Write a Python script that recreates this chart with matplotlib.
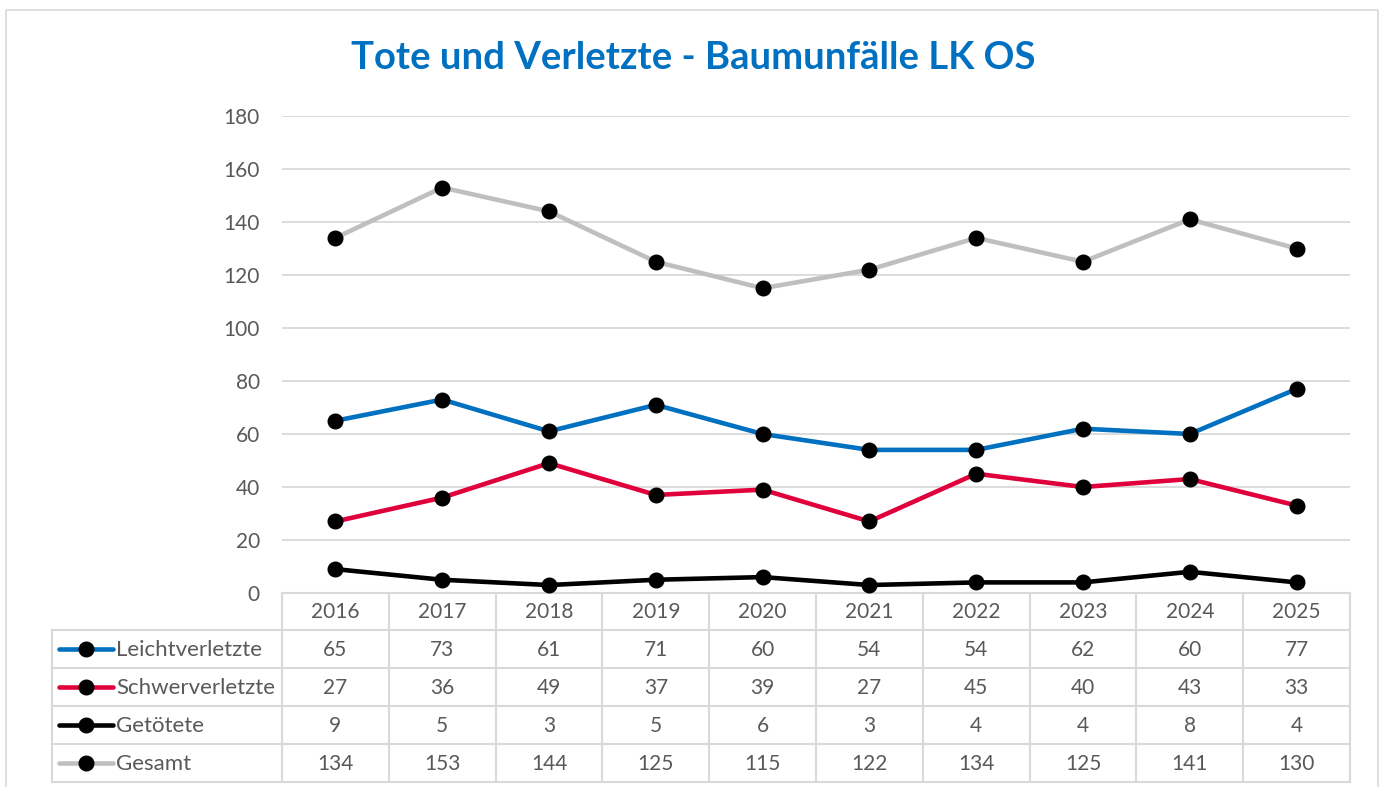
import matplotlib
matplotlib.use("Agg")
import matplotlib.pyplot as plt

years = ["2016", "2017", "2018", "2019", "2020", "2021", "2022", "2023", "2024", "2025"]
leicht = [65, 73, 61, 71, 60, 54, 54, 62, 60, 77]
schwer = [27, 36, 49, 37, 39, 27, 45, 40, 43, 33]
getoetet = [9, 5, 3, 5, 6, 3, 4, 4, 8, 4]
gesamt = [134, 153, 144, 125, 115, 122, 134, 125, 141, 130]
series_names = ["Leichtverletzte", "Schwerverletzte", "Getötete", "Gesamt"]
series_values = [leicht, schwer, getoetet, gesamt]
series_colors = ["#0070C0", "#E0003C", "#000000", "#BFBFBF"]
yticks = [0, 20, 40, 60, 80, 100, 120, 140, 160, 180]
title = "Tote und Verletzte - Baumunfälle LK OS"

W, H = 1379, 787
plt.rcParams["font.family"] = ["Lato", "DejaVu Sans"]
fig = plt.figure(figsize=(W / 100, H / 100), dpi=100)

txt = "#595959"
grid_c = "#D9D9D9"

# overlay in pixel coordinates
ov = fig.add_axes([0, 0, 1, 1])
ov.set_xlim(0, W)
ov.set_ylim(H, 0)
ov.axis("off")

# outer border
ov.plot([6, 6, 1378, 1378], [H, 10, 10, H], color=grid_c, lw=1.2)

# plot area
px0, px1, py0, py1 = 282, 1350, 116, 593
ax = fig.add_axes([px0 / W, (H - py1) / H, (px1 - px0) / W, (py1 - py0) / H])
ax.set_xlim(-0.5, len(years) - 0.5)
ax.set_ylim(0, 180)
ax.patch.set_alpha(0)
for s in ax.spines.values():
    s.set_visible(False)
ax.set_xticks([])
ax.set_yticks(yticks)
ax.set_yticklabels([str(t) for t in yticks], color=txt, fontsize=15)
ax.tick_params(axis="y", length=0, pad=16)
for t in yticks[1:]:
    ax.axhline(t, color=grid_c, lw=1.3, zorder=0)

order = [3, 0, 1, 2]
for i in order:
    ax.plot(range(len(years)), series_values[i], color=series_colors[i], lw=3.3,
            marker="o", markersize=10.5, markerfacecolor="black", markeredgecolor="black",
            zorder=3, clip_on=False)

fig.text(693 / W, 1 - 58 / H, title, ha="center", va="center", fontsize=27.5,
         fontweight="bold", color="#0070C0")

# data table
colw = (px1 - px0) / len(years)
row_top = [593, 630, 668, 706, 744, 782]
lc = "#D9D9D9"
lw = 1.5
ov.plot([px0, px1], [row_top[0]] * 2, color=lc, lw=lw)
for y in row_top[1:]:
    ov.plot([52, px1], [y, y], color=lc, lw=lw)
ov.plot([52, 52], [row_top[1], row_top[-1]], color=lc, lw=lw)
for j in range(len(years) + 1):
    x = px0 + j * colw
    ov.plot([x, x], [row_top[0], row_top[-1]], color=lc, lw=lw)

fs_num = 15
fs_name = 16
for j, yr in enumerate(years):
    cx = px0 + (j + 0.5) * colw
    ov.text(cx, (row_top[0] + row_top[1]) / 2 + 1, yr, ha="center", va="center",
            color=txt, fontsize=fs_num)
for i, name in enumerate(series_names):
    cy = (row_top[i + 1] + row_top[i + 2]) / 2
    ov.plot([59, 113], [cy, cy], color=series_colors[i], lw=3.3, solid_capstyle="round")
    ov.plot([86], [cy], marker="o", markersize=10.5, color="black")
    ov.text(116, cy + 1, name, ha="left", va="center", color=txt, fontsize=fs_name)
    for j, v in enumerate(series_values[i]):
        cx = px0 + (j + 0.5) * colw
        ov.text(cx, cy + 1, str(v), ha="center", va="center", color=txt, fontsize=fs_num)

fig.savefig("out.png", dpi=100)
